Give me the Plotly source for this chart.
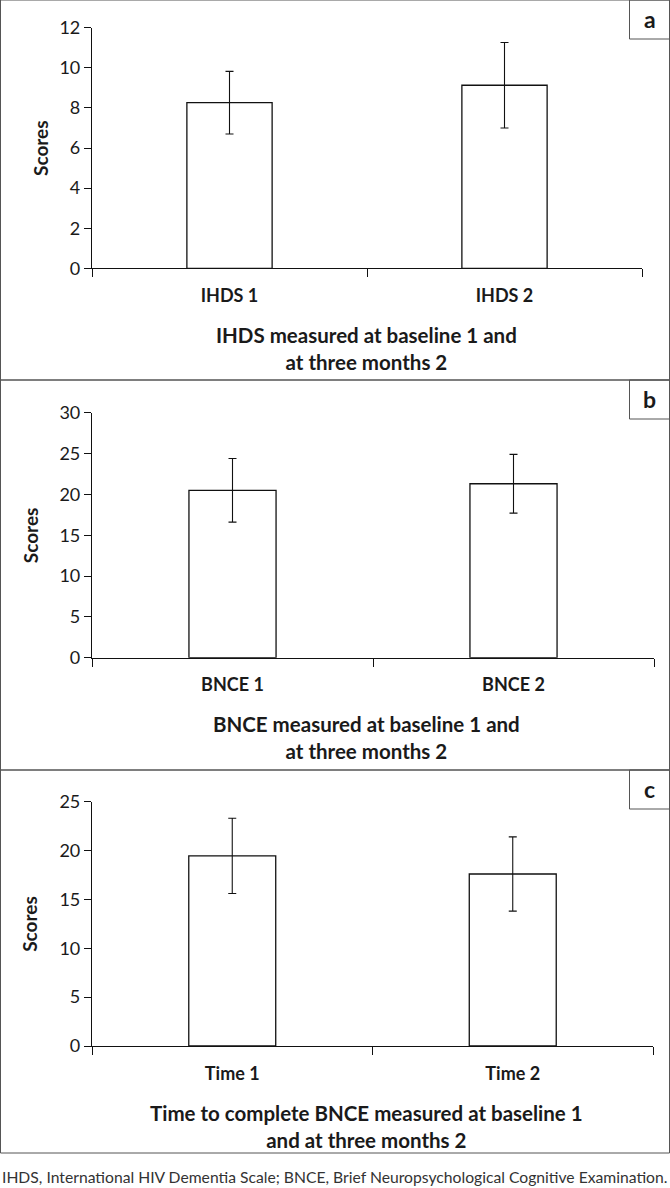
import plotly.graph_objects as go

W, H = 670, 1188

# Data
cats_a = ["IHDS 1", "IHDS 2"]
vals_a = [8.26, 9.13]
err_a = [1.56, 2.13]

cats_b = ["BNCE 1", "BNCE 2"]
vals_b = [20.5, 21.3]
err_b = [3.9, 3.6]

cats_c = ["Time 1", "Time 2"]
vals_c = [19.45, 17.6]
err_c = [3.85, 3.8]

titles = [
    "IHDS measured at baseline 1 and<br>at three months 2",
    "BNCE measured at baseline 1 and<br>at three months 2",
    "Time to complete BNCE measured at baseline 1<br>and at three months 2",
]
panel_letters = ["a", "b", "c"]
y_ranges = [(0, 12, 2), (0, 30, 5), (0, 25, 5)]
footnote = "IHDS, International HIV Dementia Scale; BNCE, Brief Neuropsychological Cognitive Examination."

FONT = "Lato"
TXT = "#1a1a1a"

panels = [
    dict(l=92, r=642, t=27.7, b=268.3, ptop=0, pbot=380, title_y=348, ytitle_x=40),
    dict(l=92, r=654, t=412.7, b=657.7, ptop=380, pbot=770, title_y=737, ytitle_x=30),
    dict(l=92, r=653, t=801.7, b=1046, ptop=770, pbot=1153, title_y=1126, ytitle_x=30),
]

fig = go.Figure()
data = [(cats_a, vals_a, err_a), (cats_b, vals_b, err_b), (cats_c, vals_c, err_c)]

shapes = []
annotations = []
for i, ((cats, vals, errs), p) in enumerate(zip(data, panels)):
    n = "" if i == 0 else str(i + 1)
    fig.add_trace(go.Bar(
        x=cats, y=vals, xaxis="x" + n, yaxis="y" + n,
        width=0.31,
        marker=dict(color="white", line=dict(color="#111", width=1.3)),
        error_y=dict(type="data", array=errs, visible=True, color="#111", thickness=1.1, width=4),
        showlegend=False,
    ))
    lo, hi, dt = y_ranges[i]
    fig.update_layout(**{
        "xaxis" + n: dict(
            domain=[p["l"] / W, p["r"] / W], anchor="y" + n, type="category",
            tickson="boundaries", ticks="outside", ticklen=8, tickcolor="#111",
            tickmode="array", tickvals=cats, ticktext=["<b>" + c + "</b>" for c in cats],
            showline=True, linecolor="#111", linewidth=1.2, showgrid=False,
            tickfont=dict(family=FONT, size=18, color=TXT),
            ticklabelstandoff=11,
            fixedrange=True, automargin=False,
        ),
        "yaxis" + n: dict(
            domain=[1 - p["b"] / H, 1 - p["t"] / H], anchor="x" + n,
            range=[lo, hi], dtick=dt, tick0=0, ticks="outside", ticklen=7, tickcolor="#111",
            showline=True, linecolor="#111", linewidth=1.2, showgrid=False, zeroline=False,
            tickfont=dict(family=FONT, size=18, color=TXT),
            fixedrange=True, automargin=False,
        ),
    })
    shapes.append(dict(type="rect", xref="paper", yref="paper",
                       x0=0.5 / W, x1=669.5 / W, y0=1 - p["pbot"] / H, y1=1 - p["ptop"] / H,
                       line=dict(color="#555", width=1)))
    shapes.append(dict(type="rect", xref="paper", yref="paper",
                       x0=629.5 / W, x1=669.5 / W, y0=1 - (p["ptop"] + 39) / H, y1=1 - p["ptop"] / H,
                       line=dict(color="#555", width=1)))
    annotations.append(dict(text="<b>" + panel_letters[i] + "</b>", xref="paper", yref="paper",
                            x=649.5 / W, y=1 - (p["ptop"] + 19) / H, showarrow=False,
                            font=dict(family=FONT, size=23, color=TXT), xanchor="center", yanchor="middle"))
    annotations.append(dict(text="<b>" + titles[i] + "</b>", xref="paper", yref="paper",
                            x=366 / W, y=1 - p["title_y"] / H, showarrow=False,
                            font=dict(family=FONT, size=20.5, color=TXT), xanchor="center", yanchor="middle"))
    annotations.append(dict(text="<b>Scores</b>", xref="paper", yref="paper", textangle=-90,
                            x=p["ytitle_x"] / W, y=1 - (p["t"] + p["b"]) / 2 / H, showarrow=False,
                            font=dict(family=FONT, size=19, color=TXT), xanchor="center", yanchor="middle"))

annotations.append(dict(text=footnote, xref="paper", yref="paper", x=0, y=1 - 1177 / H,
                        showarrow=False, xanchor="left", yanchor="middle",
                        font=dict(family=FONT, size=15.7, color="#333")))

fig.update_layout(
    width=W, height=H, margin=dict(l=0, r=0, t=0, b=0, autoexpand=False),
    paper_bgcolor="white", plot_bgcolor="white",
    shapes=shapes, annotations=annotations, bargap=0.69,
)

fig.write_html(
    "out.html",
    config={"displayModeBar": False},
    post_script="document.body.style.margin='0';document.body.style.overflow='hidden';",
)
